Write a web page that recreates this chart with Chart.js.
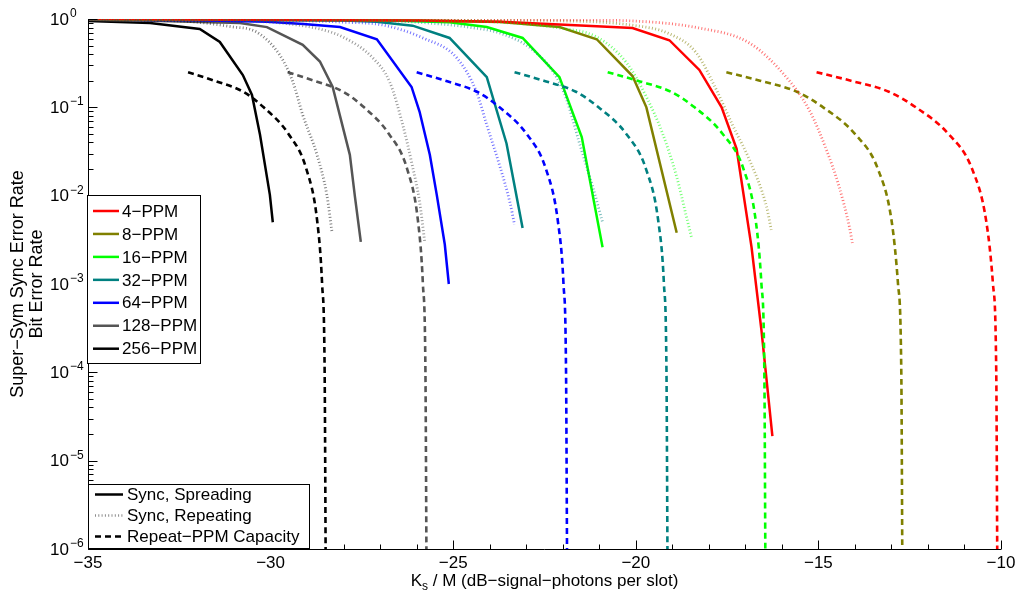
<!DOCTYPE html>
<html>
<head>
<meta charset="utf-8">
<script src="https://cdn.jsdelivr.net/npm/chart.js@4.4.0/dist/chart.umd.min.js"></script>
<style>
  html, body { margin: 0; padding: 0; background: #fff; }
  #wrap { width: 1016px; height: 601px; }
</style>
</head>
<body>
<div id="wrap"><canvas id="ppmChart" width="1016" height="601"></canvas></div>
<script>
// --- datos: [dB, tasa de error] ---
const ppmNames = ['4\u2212PPM', '8\u2212PPM', '16\u2212PPM', '32\u2212PPM', '64\u2212PPM', '128\u2212PPM', '256\u2212PPM'];
const styleNames = ['Sync, Spreading', 'Sync, Repeating', 'Repeat\u2212PPM Capacity'];

const xTicks = [-35, -30, -25, -20, -15, -10];
const yDecades = [0, -1, -2, -3, -4, -5, -6];

// Sync, Spreading (linea continua)
const spreading4 = [[-35, 1.0], [-26, 0.96], [-23.7, 0.93], [-21.07, 0.83], [-20.09, 0.79], [-19.08, 0.575], [-18.26, 0.265], [-17.65, 0.1], [-17.24, 0.034], [-16.83, 0.0026], [-16.56, 0.0003], [-16.26, 1.9e-5]];
const spreading8 = [[-35, 1.0], [-26, 0.96], [-23.7, 0.925], [-22.09, 0.81], [-21.07, 0.59], [-20.09, 0.226], [-19.71, 0.1], [-18.88, 0.0038]];
const spreading16 = [[-35, 1.0], [-27, 0.97], [-25.1, 0.92], [-24.08, 0.81], [-23.1, 0.61], [-22.09, 0.22], [-21.48, 0.046], [-20.91, 0.0026]];
const spreading32 = [[-35, 1.0], [-28, 0.96], [-27.1, 0.93], [-26.11, 0.84], [-25.1, 0.61], [-24.08, 0.22], [-23.54, 0.039], [-23.1, 0.0043]];
const spreading64 = [[-35, 0.99], [-32, 0.97], [-30.1, 0.93], [-29.1, 0.88], [-28.1, 0.81], [-27.09, 0.59], [-26.14, 0.17], [-25.92, 0.089], [-25.64, 0.029], [-25.45, 0.0102], [-25.23, 0.0028], [-25.12, 0.001]];
const spreading128 = [[-35, 0.98], [-33, 0.95], [-30.84, 0.9], [-30.1, 0.81], [-29.12, 0.51], [-28.65, 0.33], [-28.3, 0.17], [-28.1, 0.08], [-27.83, 0.029], [-27.69, 0.0097], [-27.53, 0.003]];
const spreading256 = [[-35, 0.95], [-33.3, 0.9], [-31.94, 0.77], [-31.39, 0.55], [-30.76, 0.232], [-30.51, 0.138], [-30.29, 0.049], [-30.02, 0.0102], [-29.94, 0.005]];

// Sync, Repeating (punteada)
const repeating4 = [[-35, 1.0], [-22, 0.98], [-20.09, 0.95], [-18.26, 0.79], [-16.89, 0.535], [-15.98, 0.245], [-15.25, 0.093], [-14.78, 0.033], [-14.43, 0.0125], [-14.15, 0.0044], [-14.07, 0.0029]];
const repeating8 = [[-35, 1.0], [-22, 0.95], [-20.09, 0.85], [-19.08, 0.68], [-18.34, 0.412], [-17.79, 0.157], [-17.35, 0.063], [-16.89, 0.0255], [-16.42, 0.0075], [-16.29, 0.0041]];
const repeating16 = [[-35, 1.0], [-25, 0.96], [-23.73, 0.92], [-22.09, 0.79], [-21.07, 0.625], [-20.25, 0.318], [-19.71, 0.131], [-19.27, 0.051], [-18.88, 0.0163], [-18.61, 0.0057], [-18.47, 0.0033]];
const repeating32 = [[-35, 1.0], [-27, 0.96], [-25.37, 0.88], [-24.5, 0.8], [-23.73, 0.695], [-22.82, 0.446], [-22.17, 0.22], [-21.89, 0.121], [-21.54, 0.039], [-21.18, 0.0126], [-20.91, 0.005]];
const repeating64 = [[-35, 1.0], [-30, 0.97], [-28, 0.92], [-26.93, 0.855], [-25.83, 0.61], [-24.9, 0.362], [-24.36, 0.149], [-24.08, 0.063], [-23.73, 0.022], [-23.45, 0.0085], [-23.32, 0.0047]];
const repeating128 = [[-35, 0.99], [-31, 0.96], [-29.5, 0.88], [-28.6, 0.76], [-28.02, 0.625], [-27.2, 0.362], [-26.74, 0.194], [-26.38, 0.063], [-26.14, 0.024], [-25.92, 0.0085], [-25.78, 0.003]];
const repeating256 = [[-35, 0.99], [-32.5, 0.95], [-32, 0.92], [-31.1, 0.82], [-30.38, 0.71], [-29.75, 0.391], [-29.39, 0.194], [-29.12, 0.082], [-28.73, 0.029], [-28.46, 0.0102], [-28.32, 0.0039]];

// Repeat-PPM Capacity (discontinua)
const capacity4 = [[-15.05, 0.25], [-14.11, 0.2], [-13.07, 0.15], [-12.33, 0.1], [-11.44, 0.05], [-10.79, 0.02], [-10.4, 0.005], [-10.22, 1e-3], [-10.13, 1e-4], [-10.1, 5e-7]];
const capacity8 = [[-17.52, 0.25], [-16.6, 0.2], [-15.59, 0.15], [-14.87, 0.1], [-14.0, 0.05], [-13.37, 0.02], [-12.99, 0.005], [-12.82, 1e-3], [-12.73, 1e-4], [-12.7, 5e-7]];
const capacity16 = [[-20.77, 0.25], [-19.95, 0.2], [-19.04, 0.15], [-18.39, 0.1], [-17.62, 0.05], [-17.05, 0.02], [-16.71, 0.005], [-16.56, 1e-3], [-16.48, 1e-4], [-16.45, 5e-7]];
const capacity32 = [[-23.32, 0.25], [-22.52, 0.2], [-21.64, 0.15], [-21.02, 0.1], [-20.26, 0.05], [-19.72, 0.02], [-19.38, 0.005], [-19.23, 1e-3], [-19.16, 1e-4], [-19.13, 5e-7]];
const capacity64 = [[-26.0, 0.25], [-25.22, 0.2], [-24.35, 0.15], [-23.73, 0.1], [-22.99, 0.05], [-22.46, 0.02], [-22.13, 0.005], [-21.98, 1e-3], [-21.91, 1e-4], [-21.88, 5e-7]];
const capacity128 = [[-29.53, 0.25], [-28.81, 0.2], [-28.01, 0.15], [-27.44, 0.1], [-26.76, 0.05], [-26.26, 0.02], [-25.96, 0.005], [-25.83, 1e-3], [-25.76, 1e-4], [-25.73, 5e-7]];
const capacity256 = [[-32.26, 0.25], [-31.54, 0.2], [-30.75, 0.15], [-30.19, 0.1], [-29.51, 0.05], [-29.02, 0.02], [-28.72, 0.005], [-28.59, 1e-3], [-28.52, 1e-4], [-28.49, 5e-7]];

// --- estilos ---
const ppmColors = ['#ff0000', '#808000', '#00ff00', '#008080', '#0000ff', '#555555', '#000000'];
const ppmColorsLight = ['rgba(255,0,0,0.55)', 'rgba(128,128,0,0.55)', 'rgba(0,255,0,0.55)', 'rgba(0,128,128,0.55)',
                        'rgba(0,0,255,0.55)', 'rgba(85,85,85,0.6)', 'rgba(0,0,0,0.5)'];
const FONT = '"Liberation Sans", Arial, Helvetica, sans-serif';
const FS = 17;

const spreading = [spreading4, spreading8, spreading16, spreading32, spreading64, spreading128, spreading256];
const repeating = [repeating4, repeating8, repeating16, repeating32, repeating64, repeating128, repeating256];
const capacity = [capacity4, capacity8, capacity16, capacity32, capacity64, capacity128, capacity256];

function toXY(pts) { return pts.map(p => ({ x: p[0], y: p[1] })); }

const datasets = [];
repeating.forEach((pts, i) => datasets.push({
    data: toXY(pts), borderColor: ppmColorsLight[i], borderWidth: 2.8, borderDash: [1, 2.3],
    cubicInterpolationMode: 'monotone'
}));
capacity.forEach((pts, i) => datasets.push({
    data: toXY(pts), borderColor: ppmColors[i], borderWidth: 2.6, borderDash: [6, 4],
    cubicInterpolationMode: 'monotone'
}));
spreading.forEach((pts, i) => datasets.push({
    data: toXY(pts), borderColor: ppmColors[i], borderWidth: 2.5
}));
datasets.forEach(d => { d.pointRadius = 0; d.fill = false; });

// ejes, marcas, textos y leyendas dibujados a mano (estilo MATLAB)
const axesPlugin = {
    id: 'matlabAxes',
    afterDraw(chart) {
        const ctx = chart.ctx;
        const a = chart.chartArea;
        const xs = chart.scales.x, ys = chart.scales.y;
        ctx.save();
        ctx.strokeStyle = '#000';
        ctx.fillStyle = '#000';
        ctx.lineWidth = 1;

        // lineas de eje
        const L = Math.round(a.left) + 0.5, B = Math.round(a.bottom) + 0.5;
        ctx.beginPath();
        ctx.moveTo(L, a.top);
        ctx.lineTo(L, B);
        ctx.lineTo(a.right, B);
        ctx.stroke();

        // marcas del eje x (hacia dentro)
        ctx.beginPath();
        for (let v = xs.min; v <= xs.max + 1e-9; v += 1) {
            const px = Math.round(xs.getPixelForValue(v)) + 0.5;
            const len = xTicks.includes(v) ? 9 : 5;
            ctx.moveTo(px, B);
            ctx.lineTo(px, B - len);
        }
        // marcas del eje y (log, con menores)
        yDecades.forEach(d => {
            const py = Math.round(ys.getPixelForValue(Math.pow(10, d))) + 0.5;
            ctx.moveTo(L, py);
            ctx.lineTo(L + 9, py);
            if (d < 0) {
                for (let k = 2; k <= 9; k++) {
                    const pm = Math.round(ys.getPixelForValue(k * Math.pow(10, d))) + 0.5;
                    ctx.moveTo(L, pm);
                    ctx.lineTo(L + 5, pm);
                }
            }
        });
        ctx.stroke();

        // etiquetas x
        ctx.font = FS + 'px ' + FONT;
        ctx.textAlign = 'center';
        ctx.textBaseline = 'middle';
        xTicks.forEach(v => {
            const label = v < 0 ? '\u2212' + Math.abs(v) : String(v);
            ctx.fillText(label, xs.getPixelForValue(v), B + 14);
        });

        // etiquetas y: 10^d
        yDecades.forEach(d => {
            const py = ys.getPixelForValue(Math.pow(10, d));
            ctx.font = FS + 'px ' + FONT;
            ctx.textAlign = 'right';
            ctx.textBaseline = 'middle';
            ctx.fillText('10', 69, py + 1);
            ctx.font = '12px ' + FONT;
            ctx.textAlign = 'left';
            ctx.textBaseline = 'alphabetic';
            const e = d < 0 ? '\u2212' + Math.abs(d) : String(d);
            ctx.fillText(e, 70, py - 2);
        });

        // titulo x con subindice
        const cx = (a.left + a.right) / 2;
        const rest = ' / M (dB\u2212signal\u2212photons per slot)';
        ctx.font = FS + 'px ' + FONT;
        const wK = ctx.measureText('K').width;
        const wR = ctx.measureText(rest).width;
        ctx.font = '12px ' + FONT;
        const wS = ctx.measureText('s').width;
        const x0 = cx - (wK + wS + wR) / 2;
        const base = 586;
        ctx.textAlign = 'left';
        ctx.textBaseline = 'alphabetic';
        ctx.font = FS + 'px ' + FONT;
        ctx.fillText('K', x0, base);
        ctx.font = '12px ' + FONT;
        ctx.fillText('s', x0 + wK, base + 4);
        ctx.font = FS + 'px ' + FONT;
        ctx.fillText(rest, x0 + wK + wS, base);

        // titulo y (dos lineas)
        ctx.save();
        ctx.translate(0, (a.top + a.bottom) / 2);
        ctx.rotate(-Math.PI / 2);
        ctx.font = '18px ' + FONT;
        ctx.textAlign = 'center';
        ctx.textBaseline = 'middle';
        ctx.fillText('Super\u2212Sym Sync Error Rate', 0, 18);
        ctx.fillText('Bit Error Rate', 0, 37);
        ctx.restore();

        // leyenda de ordenes PPM
        ctx.fillStyle = '#fff';
        ctx.fillRect(87, 195, 114, 168);
        ctx.strokeRect(87.5, 195.5, 113, 168);
        ctx.font = FS + 'px ' + FONT;
        ctx.textAlign = 'left';
        ctx.textBaseline = 'middle';
        ppmNames.forEach((name, i) => {
            const y = 211 + i * 22.95;
            ctx.strokeStyle = ppmColors[i];
            ctx.lineWidth = 2.5;
            ctx.beginPath();
            ctx.moveTo(93, y);
            ctx.lineTo(119, y);
            ctx.stroke();
            ctx.fillStyle = '#000';
            ctx.fillText(name, 122, y + 1);
        });

        // leyenda de estilos
        ctx.strokeStyle = '#000';
        ctx.lineWidth = 1;
        ctx.fillStyle = '#fff';
        ctx.fillRect(88, 484, 222, 65);
        ctx.strokeRect(88.5, 484.5, 221, 64);
        const dashes = [[], [1, 2.3], [6, 4]];
        const sampleColors = ['#000', 'rgba(0,0,0,0.45)', '#000'];
        styleNames.forEach((name, i) => {
            const y = 494.5 + i * 21;
            ctx.strokeStyle = sampleColors[i];
            ctx.lineWidth = 2.5;
            ctx.setLineDash(dashes[i]);
            ctx.beginPath();
            ctx.moveTo(95, y);
            ctx.lineTo(123, y);
            ctx.stroke();
            ctx.setLineDash([]);
            ctx.fillStyle = '#000';
            ctx.fillText(name, 127, y + 1);
        });
        ctx.restore();
    }
};

new Chart(document.getElementById('ppmChart'), {
    type: 'line',
    data: { datasets: datasets },
    options: {
        responsive: false,
        animation: false,
        events: [],
        devicePixelRatio: 1,
        layout: { padding: { top: 19, right: 15, left: 0, bottom: 0 } },
        plugins: { legend: { display: false }, tooltip: { enabled: false } },
        scales: {
            x: {
                type: 'linear', min: -35, max: -10,
                ticks: { display: false },
                grid: { display: false },
                border: { display: false },
                afterFit(scale) { scale.height = 52; }
            },
            y: {
                type: 'logarithmic', min: 1e-6, max: 1,
                ticks: { display: false },
                grid: { display: false },
                border: { display: false },
                afterFit(scale) { scale.width = 88; }
            }
        }
    },
    plugins: [axesPlugin]
});
</script>
</body>
</html>
